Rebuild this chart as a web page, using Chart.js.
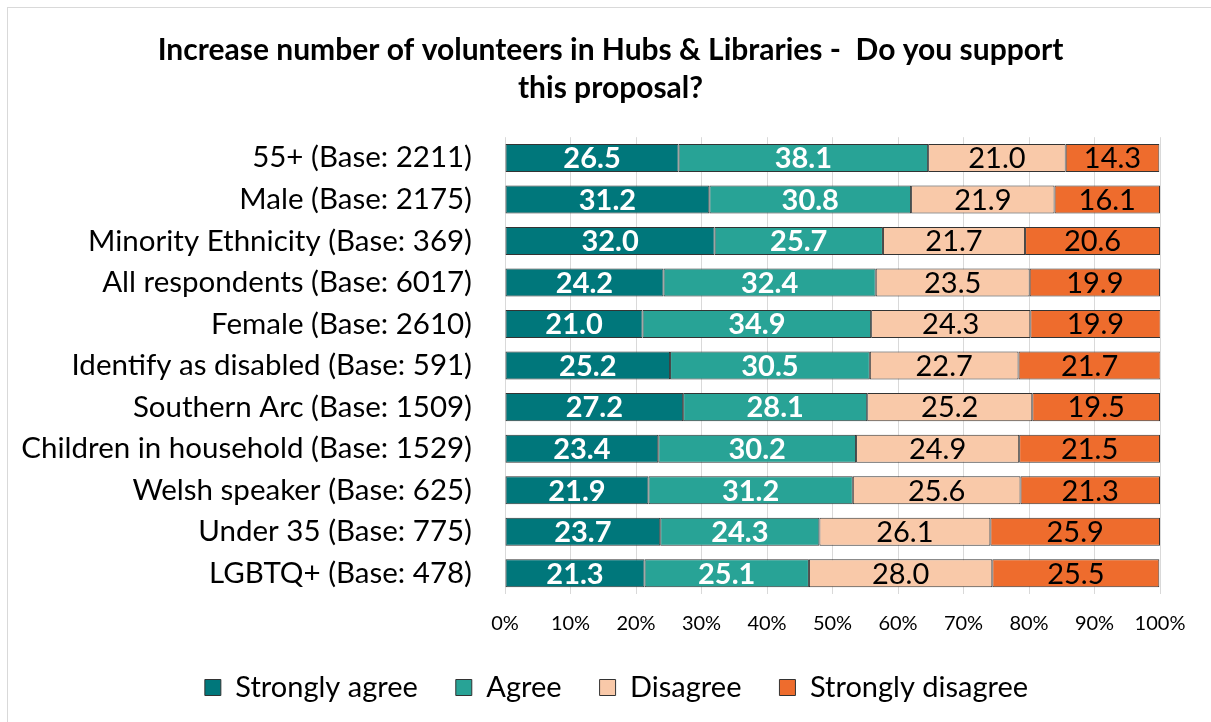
<!DOCTYPE html>
<html>
<head>
<meta charset="utf-8">
<script src="https://cdn.jsdelivr.net/npm/chart.js@4.4.1/dist/chart.umd.min.js"></script>
<style>
  html, body { margin: 0; padding: 0; background: #fff; overflow: hidden; }
  #frame { position: absolute; left: 7px; top: 7px; width: 1300px; height: 800px; border: 1px solid #d9d9d9; }
  #chart { position: absolute; left: 0; top: 0; }
</style>
</head>
<body>
<div id="frame"></div>
<canvas id="chart" width="1211" height="722"></canvas>
<script>
// categories (top to bottom)
const groups = [
    '55+ (Base: 2211)',
    'Male (Base: 2175)',
    'Minority Ethnicity (Base: 369)',
    'All respondents (Base: 6017)',
    'Female (Base: 2610)',
    'Identify as disabled (Base: 591)',
    'Southern Arc (Base: 1509)',
    'Children in household (Base: 1529)',
    'Welsh speaker (Base: 625)',
    'Under 35 (Base: 775)',
    'LGBTQ+ (Base: 478)'
];

// series values (%)
const stronglyAgree    = [26.5, 31.2, 32.0, 24.2, 21.0, 25.2, 27.2, 23.4, 21.9, 23.7, 21.3];
const agree            = [38.1, 30.8, 25.7, 32.4, 34.9, 30.5, 28.1, 30.2, 31.2, 24.3, 25.1];
const disagree         = [21.0, 21.9, 21.7, 23.5, 24.3, 22.7, 25.2, 24.9, 25.6, 26.1, 28.0];
const stronglyDisagree = [14.3, 16.1, 20.6, 19.9, 19.9, 21.7, 19.5, 21.5, 21.3, 25.9, 25.5];

const FONT = 'Lato, "Open Sans", sans-serif';

// draws the value in the middle of each segment
const segmentLabels = {
    id: 'segmentLabels',
    afterDatasetsDraw(chart) {
        const ctx = chart.ctx;
        ctx.save();
        ctx.textAlign = 'center';
        ctx.textBaseline = 'middle';
        chart.data.datasets.forEach((ds, i) => {
            const meta = chart.getDatasetMeta(i);
            meta.data.forEach((bar, j) => {
                const p = bar.getProps(['x', 'y', 'base'], true);
                ctx.fillStyle = ds.labelColor;
                ctx.font = (ds.labelBold ? 'bold ' : '') + '29px ' + FONT;
                ctx.fillText(ds.data[j].toFixed(1), (p.x + p.base) / 2, p.y + 1);
            });
        });
        ctx.restore();
    }
};

// title and legend are centred on the whole picture, not on the padded area
const recentre = {
    id: 'recentre',
    afterLayout(chart) {
        chart.titleBlock.left = 10;
        chart.titleBlock.right = 1211;
        chart.legend.left = 22;
        chart.legend.right = 1211;
    }
};

new Chart(document.getElementById('chart'), {
    type: 'bar',
    data: {
        labels: groups,
        datasets: [
            { label: 'Strongly agree', data: stronglyAgree, backgroundColor: '#00777b', labelColor: '#fff', labelBold: true },
            { label: 'Agree', data: agree, backgroundColor: '#28a396', labelColor: '#fff', labelBold: true },
            { label: 'Disagree', data: disagree, backgroundColor: '#f9c9a9', labelColor: '#000', labelBold: false },
            { label: 'Strongly disagree', data: stronglyDisagree, backgroundColor: '#ee6c2d', labelColor: '#000', labelBold: false }
        ].map(d => Object.assign(d, {
            borderColor: '#333',
            borderWidth: 1,
            borderSkipped: false,
            categoryPercentage: 0.675,
            barPercentage: 1
        }))
    },
    options: {
        indexAxis: 'y',
        responsive: false,
        animation: false,
        layout: { padding: { left: 0, right: 51, top: 31, bottom: 10 } },
        scales: {
            x: {
                stacked: true,
                min: 0,
                max: 100,
                ticks: {
                    stepSize: 10,
                    callback: v => v + '%',
                    color: '#000',
                    font: { family: FONT, size: 20 },
                    padding: 18
                },
                grid: { color: '#d9d9d9', drawTicks: false },
                border: { display: false },
                afterFit(scale) { scale.height = 41; }
            },
            y: {
                stacked: true,
                ticks: {
                    color: '#000',
                    font: { family: FONT, size: 29.5 },
                    padding: 25
                },
                grid: { display: false },
                border: { display: false },
                afterFit(scale) { scale.width = 505; }
            }
        },
        plugins: {
            title: {
                display: true,
                text: ['Increase number of volunteers in Hubs & Libraries -  Do you support', 'this proposal?'],
                color: '#000',
                font: { family: FONT, size: 30, weight: 'bold', lineHeight: 1.27 },
                padding: { top: 0, bottom: 30 }
            },
            legend: {
                position: 'bottom',
                labels: {
                    color: '#000',
                    font: { family: FONT, size: 29 },
                    boxWidth: 16,
                    boxHeight: 16,
                    padding: 38,
                    useBorderRadius: false
                }
            },
            tooltip: { enabled: false }
        }
    },
    plugins: [segmentLabels, recentre]
});
</script>
</body>
</html>
